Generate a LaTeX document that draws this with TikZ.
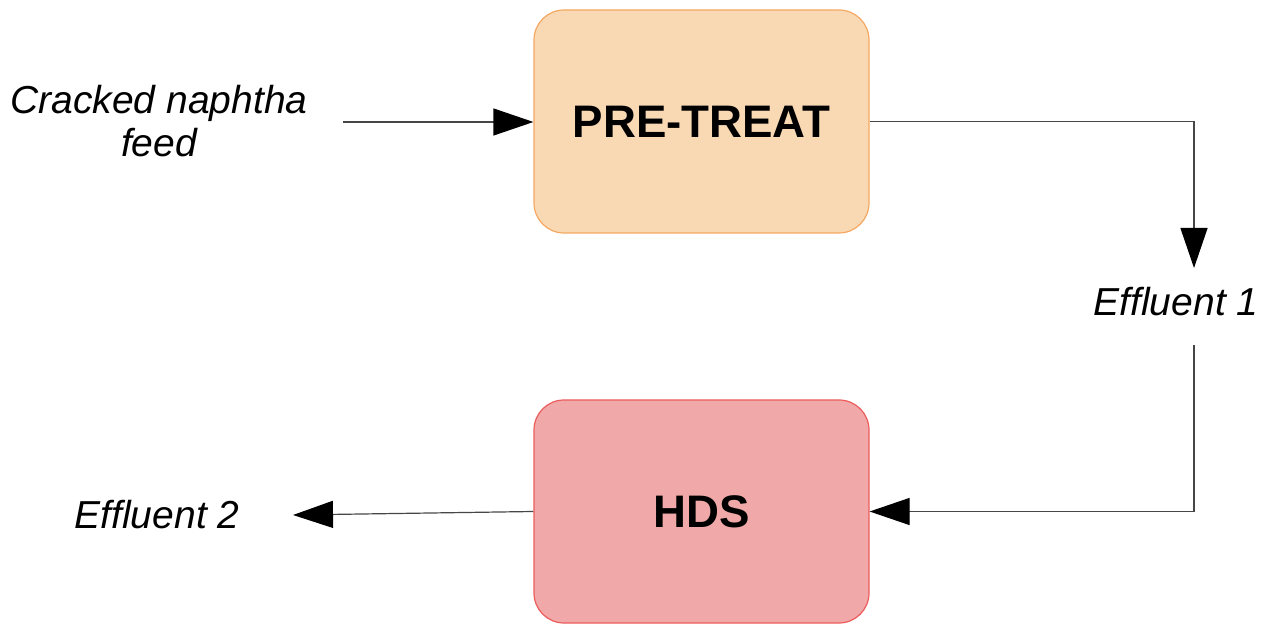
\documentclass[tikz,border=0pt]{standalone}
\usepackage{fontspec}
\setmainfont{Liberation Sans}
\usetikzlibrary{arrows.meta}
\definecolor{pretreatfill}{RGB}{249,217,180}
\definecolor{pretreatdraw}{RGB}{244,168,98}
\definecolor{hdsfill}{RGB}{240,168,168}
\definecolor{hdsdraw}{RGB}{236,92,92}
\definecolor{flowline}{RGB}{70,70,70}
\tikzset{
  unitbox/.style={rounded corners=15pt, line width=0.6pt, minimum width=167.5pt,
    minimum height=111.5pt, inner sep=0pt, font=\fontsize{22.8}{26}\selectfont\bfseries},
  streamlabel/.style={inner sep=0pt, align=center, font=\fontsize{19.5}{21.5}\selectfont\itshape},
  flow/.style={draw=flowline, line width=0.6pt, -{Triangle[length=20pt,width=13.5pt,color=black]}},
  plainflow/.style={draw=flowline, line width=0.6pt}
}
\begin{document}
\begin{tikzpicture}[x=0.5pt,y=-0.5pt]
  \useasboundingbox (0,0) rectangle (1273,624);
  % process units
  \node[unitbox, fill=pretreatfill, draw=pretreatdraw] (pre) at (701.5,121.5) {PRE-TREAT};
  \node[unitbox, fill=hdsfill, draw=hdsdraw] (hds) at (701.5,511.5) {HDS};
  % stream labels
  \node[streamlabel] (feed) at (159,121) {Cracked naphtha\\feed};
  \node[streamlabel] (eff1) at (1176,302) {Effluent 1};
  \node[streamlabel] (eff2) at (157,515) {Effluent 2};
  % connector ends
  \coordinate (feedout) at (343,122);
  \coordinate (e1top) at (1194,268);
  \coordinate (e1bot) at (1194,345);
  \coordinate (e2tip) at (293,515);
  % streams
  \draw[flow] (feedout) -- (feedout -| pre.west);
  \draw[flow] (pre.east) -| (e1top);
  \draw[flow] (e1bot) |- (hds.east);
  \draw[flow] (hds.west) -- (e2tip);
\end{tikzpicture}
\end{document}
